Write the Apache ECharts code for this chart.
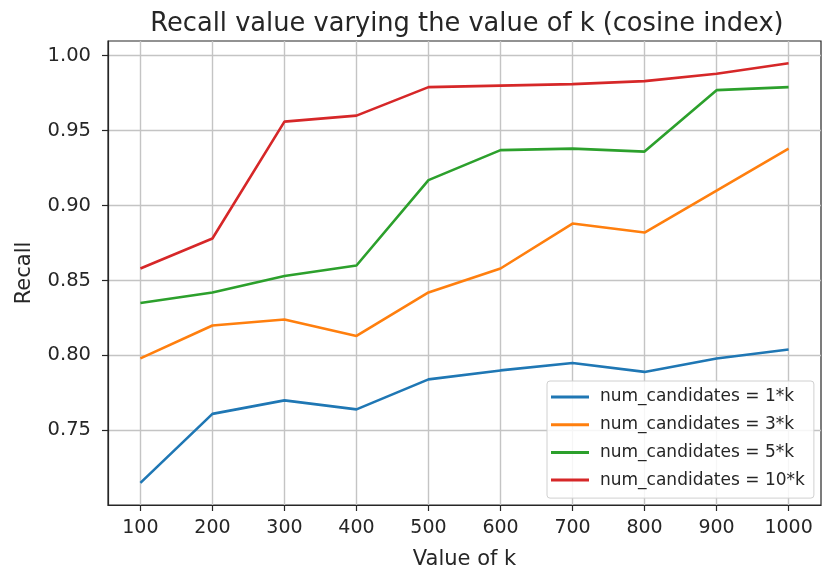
<!DOCTYPE html>
<html>
<head>
<meta charset="utf-8">
<script src="https://cdn.jsdelivr.net/npm/echarts@6/dist/echarts.min.js"></script>
<style>
html,body{margin:0;padding:0;background:#fff;}
#chart{width:823px;height:575px;}
</style>
</head>
<body>
<div id="chart"></div>
<script>
const kValues = [100, 200, 300, 400, 500, 600, 700, 800, 900, 1000];
const yTicks = [0.75, 0.80, 0.85, 0.90, 0.95, 1.00];
const recall1k  = [0.715, 0.761, 0.770, 0.764, 0.784, 0.790, 0.795, 0.789, 0.798, 0.804];
const recall3k  = [0.798, 0.820, 0.824, 0.813, 0.842, 0.858, 0.888, 0.882, 0.910, 0.938];
const recall5k  = [0.835, 0.842, 0.853, 0.860, 0.917, 0.937, 0.938, 0.936, 0.977, 0.979];
const recall10k = [0.858, 0.878, 0.956, 0.960, 0.979, 0.980, 0.981, 0.983, 0.988, 0.995];
const seriesNames = ['num_candidates = 1*k', 'num_candidates = 3*k', 'num_candidates = 5*k', 'num_candidates = 10*k'];
const seriesData = [recall1k, recall3k, recall5k, recall10k];
const colors = ['#1f77b4', '#ff7f0e', '#2ca02c', '#d62728'];

const FONT = 'DejaVu Sans';
const TXT = '#262626';
const chart = echarts.init(document.getElementById('chart'), null, {renderer: 'canvas'});

const series = seriesNames.map((name, i) => ({
  name: name,
  type: 'line',
  data: kValues.map((k, j) => [k, seriesData[i][j]]),
  symbol: 'none',
  lineStyle: {color: colors[i], width: 2.6},
  itemStyle: {color: colors[i]},
  animation: false,
  z: 3
}));

chart.setOption({
  animation: false,
  backgroundColor: '#ffffff',
  title: {
    text: 'Recall value varying the value of k (cosine index)',
    left: 462, textAlign: 'center', top: 6,
    textStyle: {fontFamily: FONT, fontSize: 25.7, fontWeight: 'normal', color: TXT}
  },
  grid: {
    left: 108, right: 2, top: 41, bottom: 68,
    show: true, borderColor: '#262626', borderWidth: 1.2, backgroundColor: '#fff'
  },
  legend: {
    data: seriesNames,
    orient: 'vertical',
    left: 547, top: 381,
    icon: 'rect', itemWidth: 38, itemHeight: 3,
    itemGap: 9.7,
    padding: [7, 9, 9, 4],
    backgroundColor: 'rgba(255,255,255,0.85)',
    borderColor: '#d0d0d0', borderWidth: 1, borderRadius: 3,
    textStyle: {fontFamily: FONT, fontSize: 17, color: TXT, lineHeight: 18, padding: [0, 0, 0, 6]}
  },
  xAxis: {
    type: 'value', min: 55, max: 1045,
    name: 'Value of k', nameLocation: 'middle', nameGap: 44,
    nameTextStyle: {fontFamily: FONT, fontSize: 21, color: TXT},
    axisLine: {show: true, lineStyle: {color: '#262626', width: 1.2}},
    axisTick: {show: true, inside: false, length: 6, customValues: kValues, lineStyle: {color: '#262626', width: 1.2}},
    axisLabel: {customValues: kValues, margin: 14, fontFamily: FONT, fontSize: 19, color: TXT,
      formatter: v => String(v)},
    splitLine: {show: true, lineStyle: {color: '#c4c4c4', width: 1.4}}
  },
  yAxis: {
    type: 'value', min: 0.7002, max: 1.0098,
    name: 'Recall', nameLocation: 'middle', nameGap: 73,
    nameTextStyle: {fontFamily: FONT, fontSize: 21, color: TXT},
    axisLine: {show: true, lineStyle: {color: '#262626', width: 1.2}},
    axisTick: {show: true, inside: false, length: 6, customValues: yTicks, lineStyle: {color: '#262626', width: 1.2}},
    axisLabel: {customValues: yTicks, margin: 17, fontFamily: FONT, fontSize: 19.5, color: TXT,
      formatter: v => v.toFixed(2)},
    splitLine: {show: true, lineStyle: {color: '#c4c4c4', width: 1.4}}
  },
  series: series
});
</script>
</body>
</html>
